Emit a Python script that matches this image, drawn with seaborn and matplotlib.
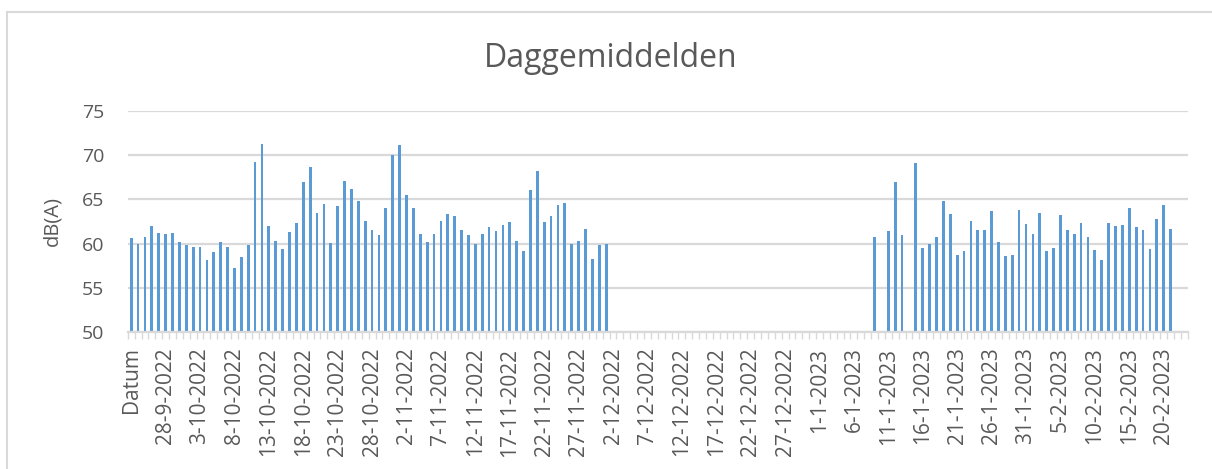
import matplotlib
matplotlib.use("Agg")
import matplotlib.pyplot as plt
from matplotlib.lines import Line2D
import seaborn as sns
import pandas as pd
import numpy as np

nan = np.nan

# categories: header row "Datum" followed by the daily dates
dates = pd.date_range("2022-09-24", "2023-02-23", freq="D")
categories = ["Datum"] + [f"{d.day}-{d.month}-{d.year}" for d in dates]

# daily average in dB(A), gaps = no measurement
values_autumn = [
    60.6, 60.0, 60.7, 62.0, 61.2, 61.1, 61.2, 60.2, 59.9, 59.6,
    59.6, 58.1, 59.1, 60.2, 59.6, 57.3, 58.5, 59.9, 69.2, 71.2,
    62.0, 60.3, 59.4, 61.3, 62.3, 66.9, 68.7, 63.5, 64.5, 60.1,
    64.2, 67.1, 66.2, 64.8, 62.5, 61.5, 61.0, 64.0, 70.0, 71.1,
    65.5, 64.0, 61.1, 60.2, 61.1, 62.5, 63.4, 63.1, 61.5, 61.0,
    60.0, 61.1, 61.9, 61.4, 62.1, 62.4, 60.3, 59.2, 66.1, 68.2,
    62.4, 63.1, 64.4, 64.6, 60.0, 60.3, 61.6, 58.3, 59.9, 60.0,
]
values_gap = [nan] * 38
values_winter = [
    60.8, nan, 61.4, 67.0, 61.0, nan, 69.1, 59.5, 60.0, 60.7,
    64.8, 63.4, 58.7, 59.2, 62.5, 61.5, 61.5, 63.7, 60.2, 58.6,
    58.7, 63.8, 62.2, 61.1, 63.5, 59.2, 59.5, 63.2, 61.5, 61.1,
    62.3, 60.8, 59.3, 58.2, 62.3, 62.0, 62.1, 64.0, 61.9, 61.5,
    59.4, 62.8, 64.4, 61.6,
]
values_tail = [nan, nan]
values = values_autumn + values_gap + values_winter + values_tail

df = pd.DataFrame({"Datum": categories, "dB(A)": values})

plt.rcParams["font.family"] = ["Open Sans", "DejaVu Sans"]
text_color = "#595959"
grid_color = "#D9D9D9"

fig = plt.figure(figsize=(12.12, 4.69), dpi=100)
ax = fig.add_axes([0.1054, 0.2915, 0.8746, 0.4725])

sns.barplot(data=df, x="Datum", y="dB(A)", order=categories,
            color="#5B9BD5", width=0.4, saturation=1, ax=ax)

ax.set_ylim(50, 75)
ax.set_xlim(-0.5, len(categories) - 0.5)
ax.set_yticks([50, 55, 60, 65, 70, 75])
ax.yaxis.grid(True, color=grid_color, linewidth=1.6)
ax.set_axisbelow(True)
for side in ["left", "right", "top"]:
    ax.spines[side].set_visible(False)
ax.spines["bottom"].set_color(grid_color)
ax.spines["bottom"].set_linewidth(1.6)

major = list(range(0, len(categories), 5))
ax.set_xticks(major)
ax.set_xticklabels([categories[i] for i in major], rotation=90)
ax.set_xticks(np.arange(-0.5, len(categories), 1), minor=True)
ax.tick_params(axis="x", which="major", length=0, pad=11,
               labelsize=15, labelcolor=text_color)
ax.tick_params(axis="x", which="minor", length=5, width=1, color=grid_color)
ax.tick_params(axis="y", length=0, pad=17, labelsize=14, labelcolor=text_color)

ax.set_xlabel("")
ax.set_ylabel("dB(A)", fontsize=14.5, color=text_color)
ax.yaxis.set_label_coords(-0.062, 0.5)

fig.text(0.504, 0.875, "Daggemiddelden", ha="center", va="center",
         fontsize=23, color=text_color)

# chart area border (top and left edges visible)
fig.add_artist(Line2D([7 / 1212, 1], [1 - 12 / 469] * 2, transform=fig.transFigure,
                      color=grid_color, linewidth=1.5))
fig.add_artist(Line2D([7 / 1212] * 2, [0, 1 - 12 / 469], transform=fig.transFigure,
                      color=grid_color, linewidth=1.5))

fig.savefig("out.png", dpi=100)
